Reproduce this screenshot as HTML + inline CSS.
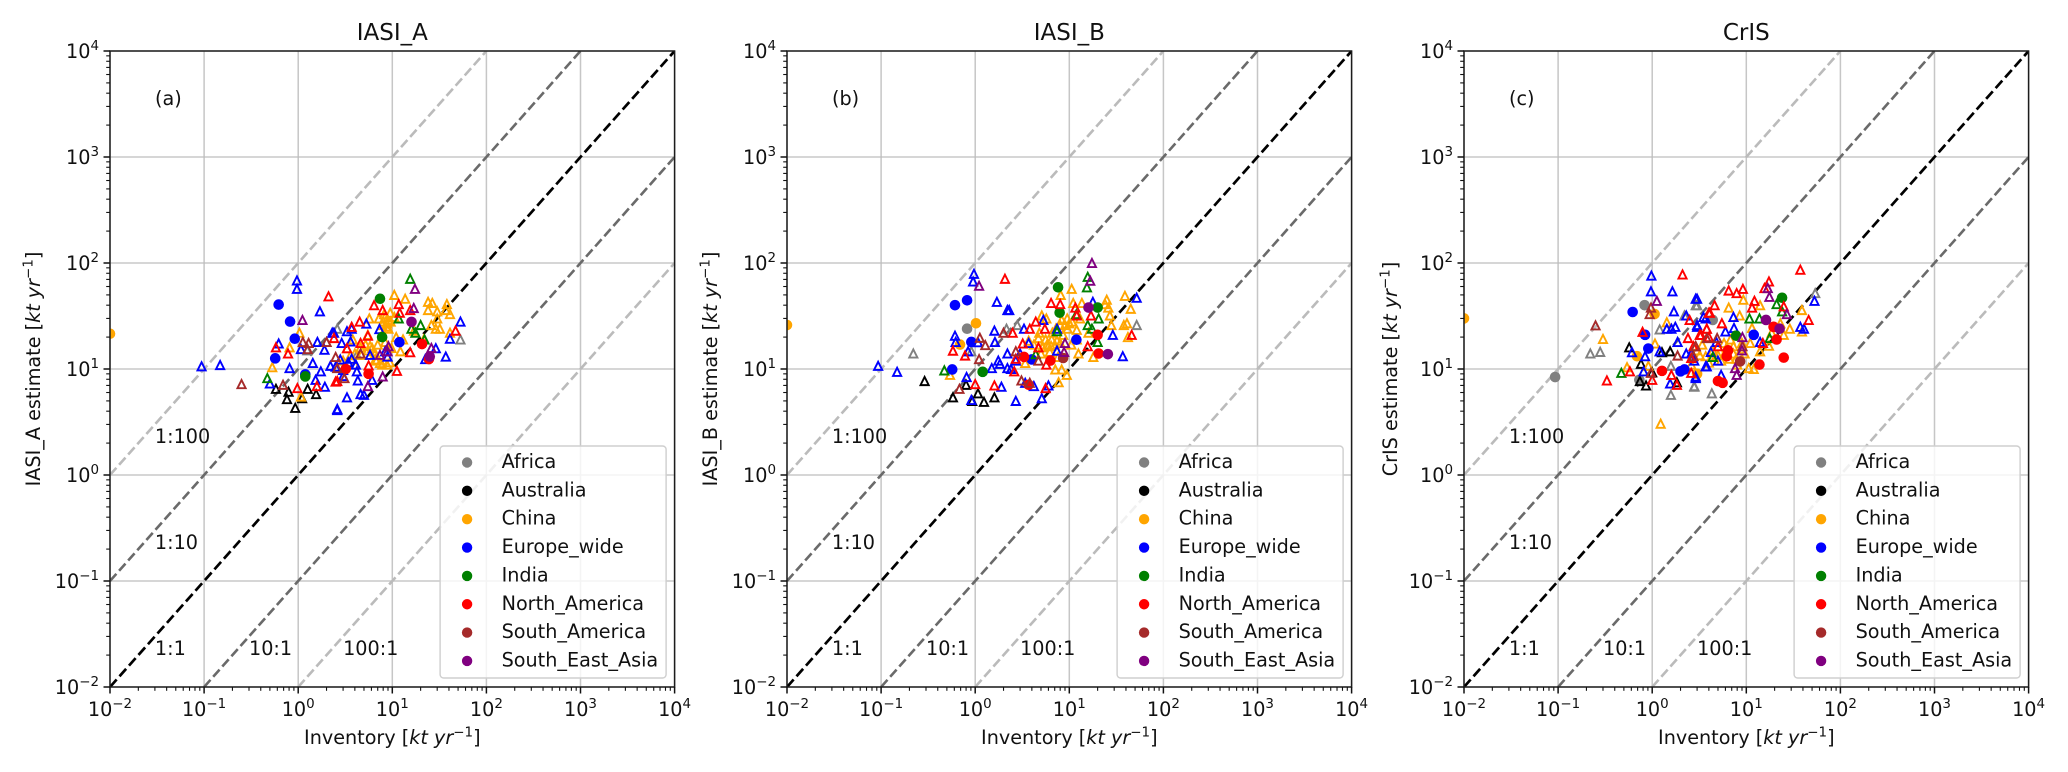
<!DOCTYPE html>
<html lang="en">
<head>
<meta charset="utf-8">
<title>Inventory vs satellite estimates</title>
<style>
html,body{margin:0;padding:0;background:#fff;width:2068px;height:772px;overflow:hidden}
svg{display:block}
text{font-family:"DejaVu Sans","Liberation Sans",sans-serif;fill:#111}
</style>
</head>
<body>
<svg id="chart" xmlns="http://www.w3.org/2000/svg" width="2068" height="772" viewBox="0 0 2068 772"></svg>
<script>
/* ---- shared categories and tick labels ---- */
const regions = ["Africa","Australia","China","Europe_wide","India","North_America","South_America","South_East_Asia"];
const regionColors = ["#808080","#000000","#ffa500","#0000ff","#008000","#ff0000","#a52a2a","#800080"];
const tickExponents = [-2,-1,0,1,2,3,4];
const ratioValues = [0.01,0.1,1,10,100];
const ratioColors = ["#bbbbbb","#6a6a6a","#000000","#6a6a6a","#bbbbbb"];
const ratioLabels = ["1:100","1:10","1:1","10:1","100:1"];
const panelTitles = ["IASI_A","IASI_B","CrIS"];
const panelLetters = ["(a)","(b)","(c)"];
const yAxisNames = ["IASI_A estimate","IASI_B estimate","CrIS estimate"];

/* ---- panel (a) IASI_A : [inventory, estimate] in kt/yr ---- */
const aAfricaTri = [[2,18],[53,19],[2.6,24],[4.2,13.6],[1.25,15]];
const aAfricaDot = [];
const aAustraliaTri = [[.58,6.5],[.79,6.1],[.76,5.2],[.93,4.3],[1.26,6.5],[1.55,5.8],[1.1,5.3]];
const aAustraliaDot = [];
const aChinaTri = [[1.03,22],[.81,16],[.53,10.4],[1.07,5.5],[10.5,50],[13.7,46],[24,43],[26.6,42],[38,41],[24,36],[30,35],[37,36],[41,33],[30,30],[5.7,30],[7.2,30],[8.4,31],[9.5,34],[8.8,27],[9.1,24],[10.5,31],[29,24],[26,26],[41,22],[17,23],[21.6,19],[12.2,14.7],[8.4,18],[6.1,15.8],[5.5,21],[4.7,13.6],[4,14],[3.3,15.7],[3.8,19],[7.4,11.4],[8.8,11],[6.6,12.3],[5.2,17],[6.3,14.7],[5.8,16.5],[7.8,26],[9,29],[8,28],[8.6,25],[9.6,28],[8.2,33],[6.8,12],[7.8,11],[9.4,11.6],[5.5,15],[6.6,14],[4.6,16],[3.6,13.5],[7,17],[9.8,15.8],[11,20],[32,24],[13,19],[3,12],[4,11]];
const aChinaDot = [[.01,21.5]];
const aEuropeTri = [[.97,68.5],[.97,57],[1.7,35],[.094,10.6],[.148,10.9],[.62,17.4],[.81,10.2],[1.6,18],[1.07,15.4],[1.9,15.2],[1.43,11.4],[1.74,9.5],[1.53,7.9],[1.92,6.8],[.5,7.3],[2.6,4.1],[2.3,22],[2.2,10.7],[53,28],[41,19.3],[37,13.1],[29,15.7],[22.4,12.4],[7.3,23.8],[5.3,26.8],[3.3,22.7],[3.7,24],[2.9,17.6],[3.6,18.2],[5.8,13.6],[8.9,13.1],[4.1,11],[2.8,12.3],[4.2,9.5],[3,9.8],[4.3,7.8],[6.1,7.9],[3.3,5.4],[4.6,5.8],[5,5.7],[2.6,4.2],[2.4,22],[8.4,14.7],[3.4,11.6],[2.5,10.5],[3,8.6],[3.7,12.5]];
const aEuropeDot = [[.62,40.5],[.82,28],[.92,19.3],[.57,12.6],[1.19,8.9],[11.9,17.9]];
const aIndiaTri = [[.47,8.2],[15.5,71],[11.7,30],[20,26],[16,24],[17.6,22],[22,19]];
const aIndiaDot = [[1.19,8.5],[7.4,46],[7.8,20]];
const aNorthAmTri = [[2.1,48.5],[.58,16],[.78,14],[.98,6.6],[1.58,6.9],[2.4,19.6],[2.5,7.6],[6.4,40],[7.9,36],[11.7,41],[12,34],[15.5,36],[47,23],[15.5,14.4],[11.2,9.6],[5.6,10.8],[2.6,7.7],[4.5,28],[3.7,25],[5.5,20.6],[4.6,17.6],[3.3,15.7]];
const aNorthAmDot = [[20.7,17.2],[24.5,12.4],[5.6,9],[3.2,10]];
const aSouthAmTri = [[.25,7.2],[1.12,18],[1.29,17.6],[1.26,15.4],[2,18],[2.5,13],[.69,7.1],[2.6,10.2],[3.1,8.2],[4.6,14]];
const aSouthAmDot = [];
const aSeAsiaTri = [[1.11,29],[17.4,57],[16.9,37.6],[9.1,16.4],[8.9,14.7],[7.4,13.6],[7.9,8.5],[5.5,6.9],[26,15.8]];
const aSeAsiaDot = [[16,27.8],[25,13.1]];

/* ---- panel (b) IASI_B ---- */
const bAfricaTri = [[.22,14],[2.15,24],[.91,14.7],[52,26],[2.8,26]];
const bAfricaDot = [[.82,24]];
const bAustraliaTri = [[.29,7.7],[.58,5.4],[.8,7.1],[1.07,5.9],[1.6,5.4],[1.24,4.9],[.93,5]];
const bAustraliaDot = [];
const bChinaTri = [[.54,8.8],[8.1,50],[10.6,57],[39,49],[25,45],[45,37],[11,42],[13.6,42],[26,38],[24,41],[27,32],[28,26],[41,27],[38,26],[42,20],[5.1,32],[5.7,30],[8.3,29],[9,26],[10.7,28],[12,23.4],[13,30],[16,22],[5.6,19],[6.5,19],[4.7,19.6],[3.7,18.5],[12,19],[12.5,14],[18,13],[9.4,8.8],[7.1,9.9],[8.3,9.9],[7.7,7.5],[3.4,11.4],[6,16.4],[8,17.6],[7.2,24],[6.6,22],[8.6,21],[7,17],[5,14],[5.8,17],[6.4,16.5],[7.4,18.5],[5.2,16],[4.2,17],[9.5,30],[8,26],[9.6,24],[10,27],[4.8,22],[6.2,14.5],[7.6,13],[8.8,14.5],[10.5,17]];
const bChinaDot = [[.01,26],[1.02,27],[.69,17]];
const bEuropeTri = [[.97,79],[.95,67],[1.7,43],[2.2,36],[.093,10.7],[.148,9.4],[.61,20.6],[.62,18],[.84,14.7],[1.07,17.9],[1.6,23],[1.62,18],[2.2,14],[1.76,12],[1.83,11.2],[2.2,10.2],[1.5,10.2],[.81,8.4],[1.9,6.8],[.91,5.1],[52,47],[29,21],[37,13.2],[17.8,43],[5.3,29],[3.3,24],[7.4,24],[7.4,14.9],[3.7,17.6],[2.3,36],[2.7,5],[5.1,5.3],[6,7],[4.2,6.9],[3.4,7.4],[2.7,12],[3,14],[2.4,10]];
const bEuropeDot = [[.82,44.5],[.61,40],[.91,18],[.57,9.9],[11.9,18.9],[4,12.3]];
const bIndiaTri = [[.47,9.7],[15.7,74],[15.4,59],[7.4,22.7],[11.9,33],[20.5,30],[15.7,26],[17.4,24],[20,18],[4.4,13.8]];
const bIndiaDot = [[1.2,9.4],[7.6,59],[7.9,34],[20,38]];
const bNorthAmTri = [[2.07,71],[.58,14.9],[.78,13.4],[1,7.2],[1.6,7],[6.4,42],[8,41],[11.6,38],[12,32],[17,32],[46,21],[15.7,16.4],[4.7,16],[4.4,28],[3.8,24],[5.5,24],[3.2,17.4],[2.5,22],[5.7,11],[2.6,9.5],[5.6,6.6],[2.7,12.5]];
const bNorthAmDot = [[3.3,13],[6.3,12],[20,21],[20.5,14],[3.7,7.1]];
const bSouthAmTri = [[1.12,19.7],[1.28,16.8],[1.1,12.4],[2,22],[.68,6.5],[3.1,7.8],[3.8,7.4],[2.7,14.7],[4.7,12]];
const bSouthAmDot = [[8.6,12.7]];
const bSeAsiaTri = [[1.1,61],[17.4,100],[16.7,68],[9,17.6],[8.8,14.5]];
const bSeAsiaDot = [[16,38],[25.7,13.8]];

/* ---- panel (c) CrIS ---- */
const cAfricaTri = [[.22,14],[.28,14.5],[1.2,23.6],[2.9,40],[2.2,32],[1.58,10.7],[1.58,5.7],[2.8,6.8],[54,52],[3,40],[4.3,5.9],[2.8,6.9]];
const cAfricaDot = [[.093,8.4],[.83,40],[.73,7.9],[4.4,29]];
const cAustraliaTri = [[.57,16],[.76,11.2],[1.27,14.4],[1.55,14.7],[.86,7],[.74,7.7],[1.83,7.5],[1,9.3]];
const cAustraliaDot = [];
const cChinaTri = [[.3,19.2],[1.23,3.05],[1.43,27.6],[.54,10.4],[1.07,17.4],[.91,10.7],[6.5,38],[9.3,45],[8.5,32],[14,40],[39,36],[39,22.6],[29,24],[11.5,24.4],[23,27],[25,21],[11,17.6],[7.3,16.4],[6.8,19],[5.8,17.6],[9,17.6],[12,10],[10.6,10.2],[14,14.7],[17.4,16.6],[3.7,13.2],[3.2,13.5],[4.7,13],[7.3,14],[18.6,22],[2.6,11],[3,15],[4,11.5],[5,13.5],[6,14.5],[6.6,12.5],[7.8,12.5],[8.4,14],[6.2,16],[5.4,12],[9.6,14],[8,11],[4.4,15],[3.4,17]];
const cChinaDot = [[.01,30],[1.06,33],[.69,13.2],[3,9]];
const cEuropeTri = [[.98,76],[.97,54],[1.64,54],[2.9,46],[1.7,35],[2.3,32],[1.76,25],[1.43,24],[1.6,24],[1.86,18],[.61,14.4],[.84,13.2],[1.2,14.7],[.81,9.5],[1.55,7.3],[2.9,8.2],[2.3,14],[3,25],[3.7,30],[3.8,10.6],[53,44],[37.5,25],[41,24],[7.3,31],[3,46],[7.4,24.4],[5.4,8.8],[2.9,8.5],[5,12],[3.7,10.6],[14,18],[6,22.6],[3.5,31],[3,26],[4.2,14.5],[2.6,14],[4.8,18],[2.8,12]];
const cEuropeDot = [[.62,34.5],[.84,21],[.91,15.6],[2,9.5],[2.2,9.9],[12,21]];
const cIndiaTri = [[.47,9.2],[21,41],[10.8,30],[13.8,30],[17.7,19.6],[4.4,13],[24,35]];
const cIndiaDot = [[24,47],[7.8,20.6]];
const cNorthAmTri = [[2.1,78],[.79,22.4],[.33,7.8],[.58,9.5],[1,7.9],[1.6,8.8],[1.83,7.1],[2.6,9.2],[2.5,29],[2.4,19.6],[3.2,21],[3.8,24],[2.6,12.7],[4,34],[37.5,86.5],[17.4,67],[9.2,57],[6.5,55],[7.9,52],[12.2,44],[11.5,38],[15.6,58],[25,39],[46,29],[4.6,40],[4.1,34],[5.5,27],[3.8,24],[3.3,21],[4,20],[2.75,16.4],[5,16.4],[15,17.6]];
const cNorthAmDot = [[1.27,9.6],[6.4,15],[6.2,13.2],[5,7.7],[5.6,7.4],[13.8,11],[25,12.8],[21,19],[19.5,25]];
const cSouthAmTri = [[.25,25.8],[.97,38],[.94,33],[1.86,13.4],[2.9,16.4],[2.75,13.2],[.97,9.2],[3.8,19.6],[4.9,19.6],[9.1,16.4],[2.9,16.4]];
const cSouthAmDot = [[8.6,11.8]];
const cSeAsiaTri = [[1.12,44],[16.9,58],[17.6,48],[27,33],[9.1,20],[9,15],[7.6,10.2],[7.9,8.8]];
const cSeAsiaDot = [[16.2,29],[22.6,24]];

const panelTriSeries = [
  [aAfricaTri,aAustraliaTri,aChinaTri,aEuropeTri,aIndiaTri,aNorthAmTri,aSouthAmTri,aSeAsiaTri],
  [bAfricaTri,bAustraliaTri,bChinaTri,bEuropeTri,bIndiaTri,bNorthAmTri,bSouthAmTri,bSeAsiaTri],
  [cAfricaTri,cAustraliaTri,cChinaTri,cEuropeTri,cIndiaTri,cNorthAmTri,cSouthAmTri,cSeAsiaTri]
];
const panelDotSeries = [
  [aAfricaDot,aAustraliaDot,aChinaDot,aEuropeDot,aIndiaDot,aNorthAmDot,aSouthAmDot,aSeAsiaDot],
  [bAfricaDot,bAustraliaDot,bChinaDot,bEuropeDot,bIndiaDot,bNorthAmDot,bSouthAmDot,bSeAsiaDot],
  [cAfricaDot,cAustraliaDot,cChinaDot,cEuropeDot,cIndiaDot,cNorthAmDot,cSouthAmDot,cSeAsiaDot]
];

/* ---- layout ---- */
const NS = "http://www.w3.org/2000/svg";
const svg = document.getElementById("chart");
const panelLeft = [110, 787, 1464];
const panelYLabelX = [40, 717, 1397];
const decadeX = 94.1, decadeY = 106, axisBottom = 687, axisTop = 51, axisW = 564.6;
const FONT = 19.2;
const axisMin = 0.01, axisMax = 10000;

function make(tag, attrs, parent) {
  const e = document.createElementNS(NS, tag);
  for (const k in attrs) e.setAttribute(k, attrs[k]);
  parent.appendChild(e);
  return e;
}
function powerText(parent, x, y, anchor, exp, size) {
  const t = make("text", {x: x, y: y, "text-anchor": anchor, "font-size": size}, parent);
  t.appendChild(document.createTextNode("10"));
  const s = make("tspan", {dy: -size * 0.42, "font-size": size * 0.7}, t);
  s.textContent = String(exp).replace("-", "\u2212");
  return t;
}

panelLeft.forEach(function (left, p) {
  const xScale = function (v) { return left + (Math.log10(v) + 2) * decadeX; };
  const yScale = function (v) { return axisBottom - (Math.log10(v) + 2) * decadeY; };
  const right = left + axisW;

  const panel = make("g", {}, svg);
  
  

  const cp = make("clipPath", {id: "clip" + p}, panel);
  make("rect", {x: left, y: axisTop, width: axisW, height: axisBottom - axisTop}, cp);

  /* grid */
  const grid = make("g", {}, panel);
  
  
  tickExponents.forEach(function (e) {
    const v = Math.pow(10, e);
    make("line", {x1: xScale(v), x2: xScale(v), y1: axisTop, y2: axisBottom, stroke: "#c6c6c6", "stroke-width": 1.5}, grid);
    make("line", {x1: left, x2: right, y1: yScale(v), y2: yScale(v), stroke: "#bdbdbd", "stroke-width": 1.2}, grid);
  });

  /* ratio lines */
  const lines = make("g", {"clip-path": "url(#clip" + p + ")"}, panel);
  
  
  ratioValues.forEach(function (r, i) {
    const isOne = r === 1;
    const a = Math.max(axisMin, axisMin * r), b = Math.min(axisMax, axisMax * r);
    const ln = make("line", {x1: xScale(a), y1: yScale(a / r), x2: xScale(b), y2: yScale(b / r),
      stroke: ratioColors[i], "stroke-width": isOne ? 2.7 : 2.6,
      "stroke-dasharray": isOne ? "10 4.3" : "9.6 4.1"}, lines);
    
    
  });

  /* points */
  const marks = make("g", {"clip-path": "url(#clip" + p + ")"}, panel);
  
  
  regions.forEach(function (region, ri) {
    const color = regionColors[ri];
    const grp = make("g", {}, marks);
    
    
    panelTriSeries[p][ri].forEach(function (pt) {
      const cx = xScale(pt[0]), cy = yScale(pt[1]), r = 4.1;
      const tri = make("polygon", {
        points: cx + "," + (cy - r) + " " + (cx + r) + "," + (cy + r) + " " + (cx - r) + "," + (cy + r),
        fill: "none", stroke: color, "stroke-width": 1.9}, grp);
      
      
    });
    panelDotSeries[p][ri].forEach(function (pt) {
      const c = make("circle", {cx: xScale(pt[0]), cy: yScale(pt[1]), r: 5.3, fill: color}, grp);
      
      
    });
  });

  /* spines */
  const spines = make("rect", {x: left, y: axisTop, width: axisW, height: axisBottom - axisTop, fill: "none", stroke: "#1c1c1c", "stroke-width": 1.5}, panel);
  
  

  /* ticks */
  const xAxis = make("g", {}, panel);
  
  
  const yAxis = make("g", {}, panel);
  
  
  tickExponents.forEach(function (e, idx) {
    const v = Math.pow(10, e);
    const tx = xScale(v), ty = yScale(v);
    make("line", {x1: tx, x2: tx, y1: axisBottom, y2: axisBottom + 6.5, stroke: "#111", "stroke-width": 1.5}, xAxis);
    make("line", {x1: left, x2: left - 6.5, y1: ty, y2: ty, stroke: "#111", "stroke-width": 1.5}, yAxis);
    const xl = powerText(xAxis, tx, 716, "middle", e, FONT);
    
    
    const yl = powerText(yAxis, left - 11, ty + 7, "end", e, FONT);
    
    
    if (idx < tickExponents.length - 1) {
      for (let m = 2; m < 10; m++) {
        const mx = xScale(m * v), my = yScale(m * v);
        make("line", {x1: mx, x2: mx, y1: axisBottom, y2: axisBottom + 3.8, stroke: "#111", "stroke-width": 1.1}, xAxis);
        make("line", {x1: left, x2: left - 3.8, y1: my, y2: my, stroke: "#111", "stroke-width": 1.1}, yAxis);
      }
    }
  });

  /* titles */
  const title = make("text", {x: left + axisW / 2, y: 40, "text-anchor": "middle", "font-size": 23}, panel);
  title.textContent = panelTitles[p];
  
  

  const letter = make("text", {x: left + 45, y: 105, "font-size": FONT}, panel);
  letter.textContent = panelLetters[p];
  
  

  function axisLabel(prefix, attrs) {
    const t = make("text", Object.assign({"text-anchor": "middle", "font-size": FONT}, attrs), panel);
    t.appendChild(document.createTextNode(prefix + " ["));
    const k = make("tspan", {"font-style": "italic"}, t);
    k.textContent = "kt yr";
    const s = make("tspan", {dy: -7.5, "font-size": FONT * 0.7}, t);
    s.textContent = "\u22121";
    const b = make("tspan", {dy: 7.5}, t);
    b.textContent = "]";
    return t;
  }
  const xt = axisLabel("Inventory", {x: left + axisW / 2, y: 744});
  
  
  const yt = axisLabel(yAxisNames[p], {x: 0, y: 0, transform: "translate(" + panelYLabelX[p] + ",369) rotate(-90)"});
  
  

  /* ratio annotations */
  const annX = [0.03, 0.03, 0.03, 0.3, 3];
  const annY = [2, 0.2, 0.02, 0.02, 0.02];
  ratioLabels.forEach(function (txt, i) {
    const a = make("text", {x: xScale(annX[i]), y: yScale(annY[i]), "font-size": FONT}, panel);
    a.textContent = txt;
    
    
  });

  /* legend */
  const lx = right - 234.5, ly = 446;
  const legend = make("g", {}, panel);
  
  
  make("rect", {x: lx, y: ly, width: 226, height: 232, rx: 3.5, fill: "#fff", "fill-opacity": 0.8, stroke: "#cfcfcf", "stroke-width": 1.4}, legend);
  regions.forEach(function (region, ri) {
    const rowY = ly + 16.5 + ri * 28.35;
    const entry = make("g", {}, legend);
    
    
    make("circle", {cx: lx + 27, cy: rowY, r: 5.2, fill: regionColors[ri]}, entry);
    const t = make("text", {x: lx + 61.5, y: rowY + 5.5, "font-size": FONT}, entry);
    t.textContent = region;
  });
});
</script>
</body>
</html>
